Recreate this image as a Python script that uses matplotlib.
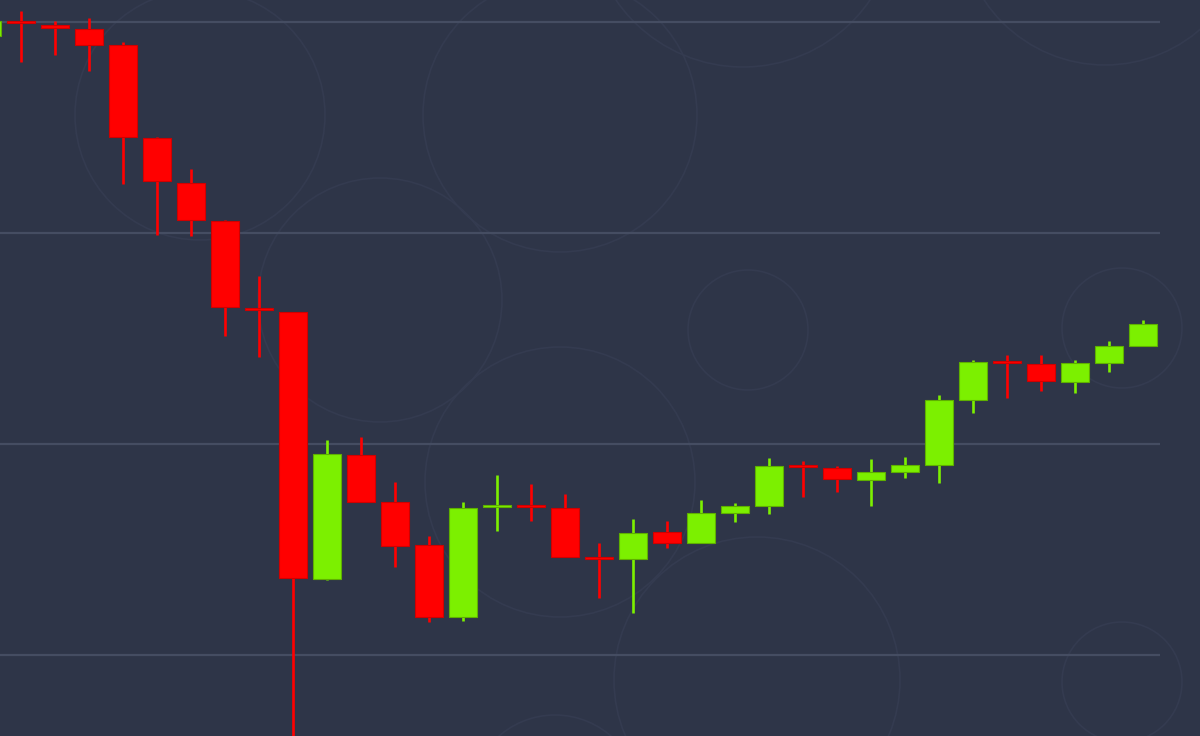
import numpy as np
import matplotlib.pyplot as plt
from matplotlib.patches import Circle

# OHLC values (one candle per period)
opens  = [10467, 10500, 10493, 10483, 10445, 10225, 10118, 10028, 9820, 9813,
          9180, 9474, 9363, 9261, 9090, 9351, 9353, 9348, 9230, 9227,
          9291, 9265, 9336, 9353, 9448, 9443, 9415, 9434, 9450, 9604,
          9694, 9690, 9647, 9692, 9732]
highs  = [10505, 10526, 10502, 10509, 10453, 10227, 10152, 10031, 9898, 9813,
          9510, 9517, 9410, 9282, 9363, 9427, 9405, 9381, 9265, 9322,
          9318, 9367, 9360, 9467, 9460, 9448, 9464, 9469, 9616, 9699,
          9711, 9711, 9699, 9744, 9794]
lows   = [10462, 10405, 10422, 10384, 10116, 9995, 9993, 9756, 9706, 8656,
          9178, 9363, 9209, 9078, 9081, 9294, 9318, 9232, 9135, 9099,
          9254, 9265, 9315, 9334, 9374, 9386, 9353, 9419, 9408, 9573,
          9609, 9626, 9621, 9671, 9732]
closes = [10502, 10498, 10486, 10445, 10227, 10123, 10031, 9825, 9818, 9182,
          9476, 9363, 9258, 9090, 9348, 9353, 9351, 9232, 9227, 9289,
          9265, 9336, 9353, 9448, 9445, 9417, 9434, 9450, 9604, 9694,
          9692, 9649, 9692, 9732, 9784]
grid_levels = [9000, 9500, 10000, 10500]

BG = '#2e3548'
UP = '#7cf000'
DOWN = '#ff0000'

fig = plt.figure(figsize=(12, 7.36), dpi=100)
fig.patch.set_facecolor(BG)

# faint decorative circles behind the chart
bg = fig.add_axes([0, 0, 1, 1])
bg.set_xlim(0, 1200)
bg.set_ylim(736, 0)
bg.axis('off')
for cx, cy, r in [(200, 115, 125), (560, 115, 137), (380, 300, 122), (560, 482, 135),
                  (743, -87, 154), (1105, -80, 145), (748, 330, 60), (1122, 328, 60),
                  (1122, 682, 60), (757, 680, 143), (555, 800, 85)]:
    bg.add_patch(Circle((cx, cy), r, fill=False, edgecolor='#343b50', lw=1.2))

ax = fig.add_axes([0, 0, 1, 1], zorder=2)
ax.patch.set_alpha(0)

x = np.arange(len(opens))
o = np.array(opens)
c = np.array(closes)
colors = [UP if cc >= oo else DOWN for oo, cc in zip(o, c)]
edges = ['#5fb000' if cc >= oo else '#d00000' for oo, cc in zip(o, c)]

# grid lines
ax.hlines(grid_levels, -1, len(opens) - 0.5, color='#454d62', lw=1.6, zorder=1)

# wicks and bodies
ax.vlines(x, lows, highs, colors=colors, lw=1.9, zorder=3)
bottoms = np.minimum(o, c)
heights = np.maximum(np.abs(c - o), 5)
ax.bar(x, heights, bottom=bottoms, width=0.8, color=colors,
       edgecolor=edges, linewidth=0.8, zorder=4)

step = 34.0
ax.set_xlim(13 / step, (1200 + 13) / step)
ax.set_ylim(8808, 10552)
ax.axis('off')

fig.savefig('out.png', dpi=100, facecolor=BG)
